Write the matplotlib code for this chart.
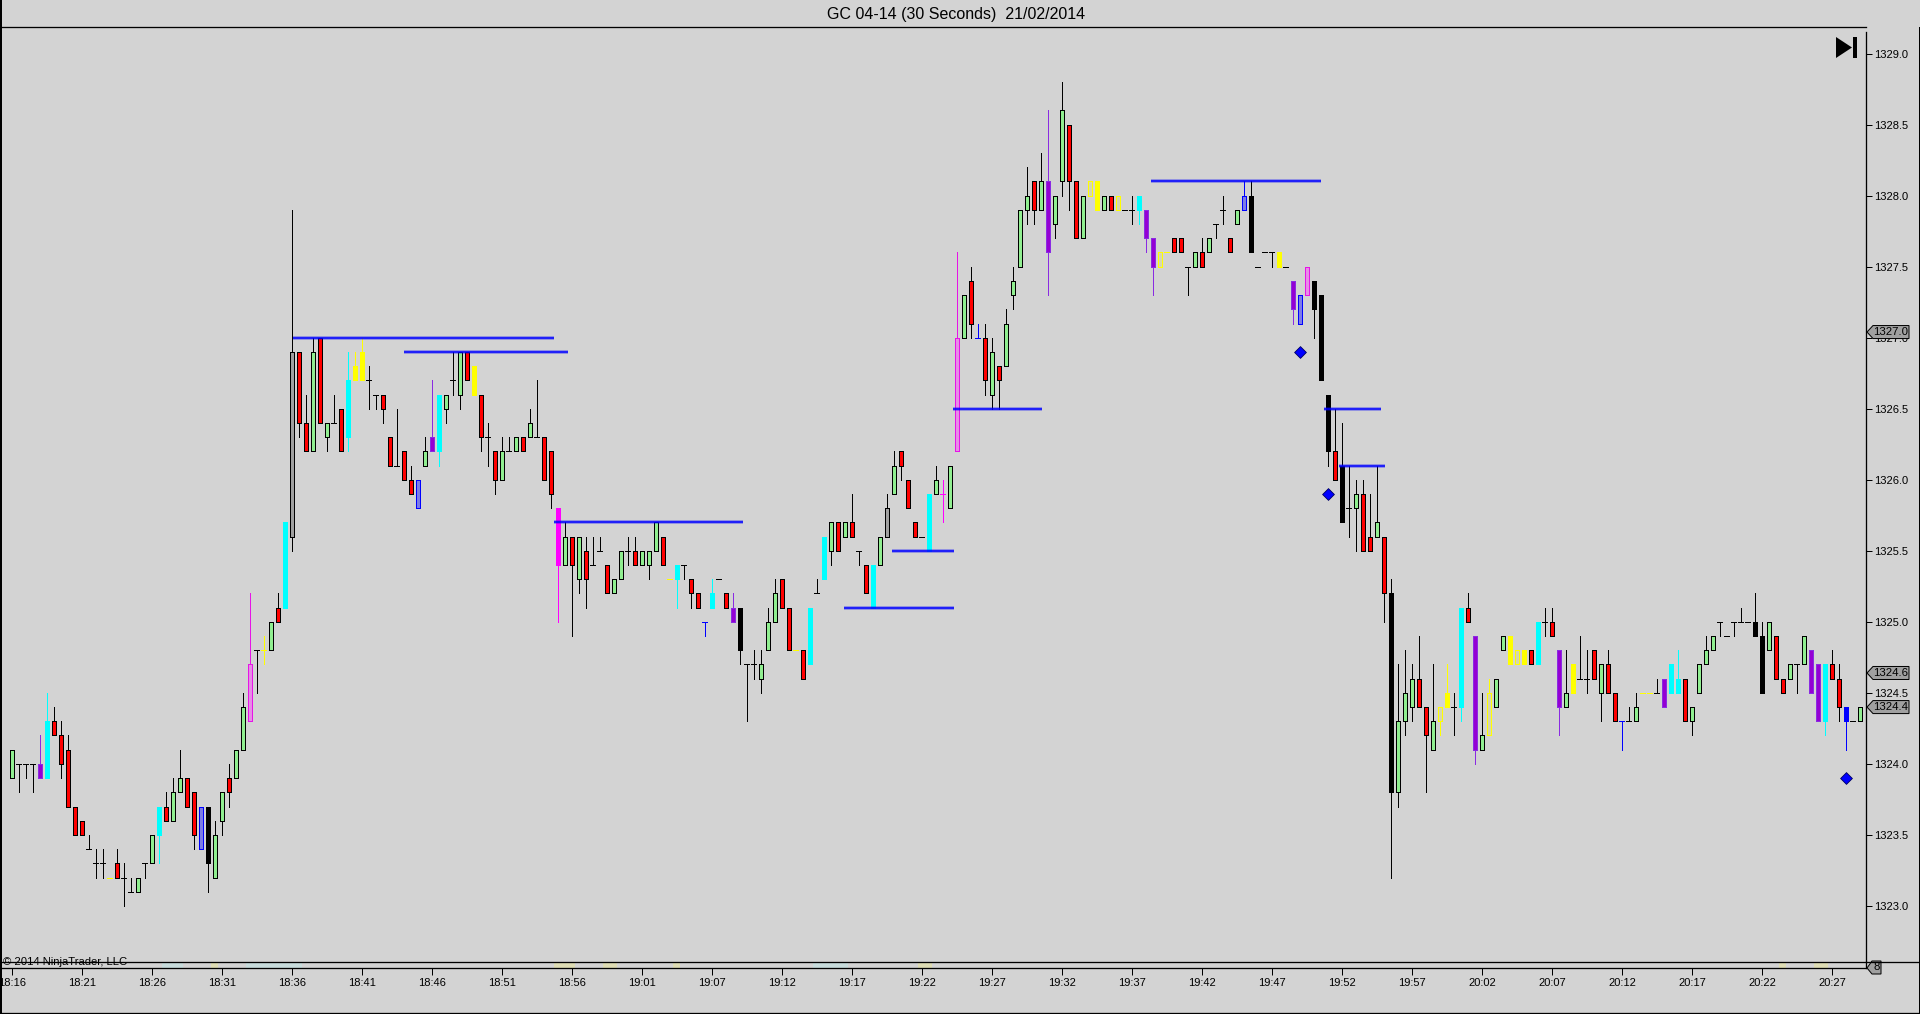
import matplotlib
matplotlib.use("Agg")
import matplotlib.pyplot as plt
from matplotlib.patches import Polygon, Rectangle
from matplotlib.lines import Line2D
from matplotlib.transforms import Affine2D, blended_transform_factory
import numpy as np

plt.rcParams['font.family'] = ['Liberation Sans', 'DejaVu Sans']

TITLE = "GC 04-14 (30 Seconds)  21/02/2014"
COPYRIGHT = "\u00a9 2014 NinjaTrader, LLC"

time_labels = ["18:16","18:21","18:26","18:31","18:36","18:41","18:46","18:51","18:56",
               "19:01","19:07","19:12","19:17","19:22","19:27","19:32","19:37","19:42",
               "19:47","19:52","19:57","20:02","20:07","20:12","20:17","20:22","20:27"]
price_ticks = [1323.0,1323.5,1324.0,1324.5,1325.0,1325.5,1326.0,1326.5,1327.0,1327.5,1328.0,1328.5,1329.0]

# one letter per bar: g up, r down, d flat, c cyan, y yellow, Y hollow yellow, m magenta,
# M hollow magenta, p purple, b hollow blue, B solid blue, k black, K grey
kinds = ("gdddpcrrrr" "rdddyrddgd" "gcrggrrbkg" "grggMdygrc" "Krrgrgdrcy"
         "yddrrdrrbg" "pcgdgryrdr" "gdgrgdrrmg" "rgrddrggdr" "gggrycdrrB"
         "cdrpkddggg" "rryrcdcgrg" "rdrcgKgrrr" "dcgmgMgrBr" "grggggrgpg"
         "grrgYygrYd" "dcppYyrrdg" "rgddrgbkdd" "dydpbMkkkr" "kdgrrgrkgg"
         "grrgYydcrp" "gYggyYyrcd" "rpgyddrgrr" "Bdgyydpccr" "ggggdddddk"
         "kgrrgdgppc" "rrBdg")

body_top = [
 1324.1,1324.0,1324.0,1324.0,1324.0,1324.3,1324.3,1324.2,1324.1,1323.7,
 1323.6,1323.4,1323.3,1323.3,1323.2,1323.3,1323.2,1323.1,1323.2,1323.3,
 1323.5,1323.7,1323.7,1323.8,1323.9,1323.9,1323.8,1323.7,1323.7,1323.5,
 1323.8,1323.9,1324.1,1324.4,1324.7,1324.8,1324.8,1325.0,1325.1,1325.7,
 1326.9,1326.9,1326.4,1326.9,1327.0,1326.4,1326.4,1326.5,1326.7,1326.8,
 1326.9,1326.7,1326.6,1326.6,1326.3,1326.1,1326.2,1326.0,1326.0,1326.2,
 1326.3,1326.6,1326.6,1326.7,1326.9,1326.9,1326.8,1326.6,1326.3,1326.2,
 1326.2,1326.2,1326.3,1326.3,1326.4,1326.3,1326.3,1326.2,1325.8,1325.6,
 1325.6,1325.6,1325.5,1325.4,1325.5,1325.4,1325.3,1325.5,1325.5,1325.5,
 1325.5,1325.5,1325.7,1325.6,1325.3,1325.4,1325.4,1325.3,1325.2,1325.0,
 1325.2,1325.3,1325.2,1325.1,1325.1,1324.7,1324.7,1324.7,1325.0,1325.2,
 1325.3,1325.1,1324.8,1324.8,1325.1,1325.2,1325.6,1325.7,1325.7,1325.7,
 1325.7,1325.5,1325.4,1325.4,1325.6,1325.8,1326.1,1326.2,1326.0,1325.7,
 1325.6,1325.9,1326.0,1325.9,1326.1,1327.0,1327.3,1327.4,1327.0,1327.0,
 1326.9,1326.8,1327.1,1327.4,1327.9,1328.0,1328.1,1328.1,1328.1,1328.0,
 1328.6,1328.5,1328.1,1328.0,1328.1,1328.1,1328.0,1328.0,1328.0,1327.9,
 1327.9,1328.0,1327.9,1327.7,1327.6,1327.6,1327.7,1327.7,1327.5,1327.6,
 1327.6,1327.7,1327.8,1327.9,1327.7,1327.9,1328.0,1328.0,1327.5,1327.6,
 1327.6,1327.6,1327.5,1327.4,1327.3,1327.5,1327.4,1327.3,1326.6,1326.2,
 1326.1,1325.8,1325.9,1325.9,1325.6,1325.7,1325.6,1325.2,1324.3,1324.5,
 1324.6,1324.6,1324.4,1324.3,1324.4,1324.5,1324.4,1325.1,1325.1,1324.9,
 1324.2,1324.5,1324.6,1324.9,1324.9,1324.8,1324.8,1324.8,1325.0,1325.0,
 1325.0,1324.8,1324.5,1324.7,1324.6,1324.6,1324.8,1324.7,1324.7,1324.5,
 1324.3,1324.3,1324.4,1324.5,1324.5,1324.5,1324.6,1324.7,1324.6,1324.6,
 1324.4,1324.7,1324.8,1324.9,1325.0,1324.9,1325.0,1325.0,1325.0,1325.0,
 1324.9,1325.0,1324.9,1324.6,1324.7,1324.7,1324.9,1324.8,1324.7,1324.7,
 1324.7,1324.6,1324.4,1324.3,1324.4]

body_bot = [
 1323.9,1324.0,1324.0,1324.0,1323.9,1323.9,1324.2,1324.0,1323.7,1323.5,
 1323.5,1323.4,1323.3,1323.3,1323.2,1323.2,1323.2,1323.1,1323.1,1323.3,
 1323.3,1323.5,1323.6,1323.6,1323.8,1323.7,1323.5,1323.4,1323.3,1323.2,
 1323.6,1323.8,1323.9,1324.1,1324.3,1324.8,1324.8,1324.8,1325.0,1325.1,
 1325.6,1326.4,1326.2,1326.2,1326.4,1326.3,1326.4,1326.2,1326.3,1326.7,
 1326.7,1326.7,1326.6,1326.5,1326.1,1326.1,1326.0,1325.9,1325.8,1326.1,
 1326.2,1326.2,1326.5,1326.7,1326.6,1326.7,1326.6,1326.3,1326.3,1326.0,
 1326.0,1326.2,1326.2,1326.2,1326.3,1326.3,1326.0,1325.9,1325.4,1325.4,
 1325.4,1325.3,1325.3,1325.4,1325.5,1325.2,1325.2,1325.3,1325.5,1325.4,
 1325.4,1325.4,1325.5,1325.4,1325.3,1325.3,1325.4,1325.2,1325.1,1325.0,
 1325.1,1325.3,1325.1,1325.0,1324.8,1324.7,1324.7,1324.6,1324.8,1325.0,
 1325.1,1324.8,1324.8,1324.6,1324.7,1325.2,1325.3,1325.5,1325.5,1325.6,
 1325.6,1325.5,1325.2,1325.1,1325.4,1325.6,1325.9,1326.1,1325.8,1325.6,
 1325.6,1325.5,1325.9,1325.9,1325.8,1326.2,1327.0,1327.1,1327.0,1326.7,
 1326.6,1326.7,1326.8,1327.3,1327.5,1327.9,1327.9,1327.9,1327.6,1327.8,
 1328.1,1328.1,1327.7,1327.7,1328.0,1327.9,1327.9,1327.9,1327.9,1327.9,
 1327.9,1327.9,1327.7,1327.5,1327.5,1327.6,1327.6,1327.6,1327.5,1327.5,
 1327.5,1327.6,1327.8,1327.9,1327.6,1327.8,1327.9,1327.6,1327.5,1327.6,
 1327.6,1327.5,1327.5,1327.2,1327.1,1327.3,1327.2,1326.7,1326.2,1326.0,
 1325.7,1325.8,1325.8,1325.5,1325.5,1325.6,1325.2,1323.8,1323.8,1324.3,
 1324.4,1324.4,1324.2,1324.1,1324.3,1324.4,1324.4,1324.4,1325.0,1324.1,
 1324.1,1324.2,1324.4,1324.8,1324.7,1324.7,1324.7,1324.7,1324.7,1325.0,
 1324.9,1324.4,1324.4,1324.5,1324.6,1324.6,1324.6,1324.5,1324.5,1324.3,
 1324.3,1324.3,1324.3,1324.5,1324.5,1324.5,1324.4,1324.5,1324.5,1324.3,
 1324.3,1324.5,1324.7,1324.8,1325.0,1324.9,1325.0,1325.0,1325.0,1324.9,
 1324.5,1324.8,1324.6,1324.5,1324.6,1324.7,1324.7,1324.5,1324.3,1324.3,
 1324.6,1324.4,1324.3,1324.3,1324.3]

highs = [
 1324.1,1324.0,1324.0,1324.0,1324.2,1324.5,1324.4,1324.3,1324.2,1323.7,
 1323.6,1323.5,1323.4,1323.4,1323.2,1323.4,1323.3,1323.2,1323.2,1323.3,
 1323.5,1323.7,1323.8,1323.9,1324.1,1323.9,1323.8,1323.7,1323.7,1323.6,
 1323.8,1324.0,1324.1,1324.5,1325.2,1324.8,1324.9,1325.0,1325.2,1325.7,
 1327.9,1326.9,1326.6,1327.0,1327.0,1326.4,1326.6,1326.5,1326.9,1326.9,
 1327.0,1326.8,1326.6,1326.6,1326.3,1326.5,1326.2,1326.1,1326.0,1326.3,
 1326.7,1326.6,1326.6,1326.9,1326.9,1326.9,1326.8,1326.6,1326.4,1326.2,
 1326.3,1326.3,1326.3,1326.3,1326.5,1326.7,1326.3,1326.2,1325.8,1325.7,
 1325.6,1325.6,1325.6,1325.6,1325.6,1325.4,1325.3,1325.5,1325.6,1325.6,
 1325.5,1325.5,1325.7,1325.6,1325.3,1325.4,1325.4,1325.3,1325.2,1325.0,
 1325.3,1325.3,1325.2,1325.2,1325.1,1324.7,1324.8,1324.8,1325.1,1325.3,
 1325.3,1325.1,1324.8,1324.8,1325.1,1325.3,1325.6,1325.7,1325.7,1325.7,
 1325.9,1325.5,1325.4,1325.4,1325.6,1325.9,1326.2,1326.2,1326.0,1325.7,
 1325.6,1325.9,1326.1,1326.0,1326.1,1327.6,1327.3,1327.5,1327.1,1327.1,
 1327.0,1326.8,1327.2,1327.5,1327.9,1328.2,1328.1,1328.3,1328.6,1328.0,
 1328.8,1328.5,1328.1,1328.0,1328.1,1328.1,1328.0,1328.0,1328.0,1327.9,
 1328.0,1328.0,1327.9,1327.7,1327.6,1327.6,1327.7,1327.7,1327.5,1327.6,
 1327.7,1327.7,1327.8,1328.0,1327.7,1327.9,1328.1,1328.1,1327.5,1327.6,
 1327.6,1327.6,1327.5,1327.4,1327.3,1327.5,1327.4,1327.3,1326.6,1326.5,
 1326.4,1326.1,1326.0,1326.0,1325.9,1326.1,1325.6,1325.3,1324.7,1324.8,
 1324.7,1324.9,1324.4,1324.7,1324.4,1324.7,1324.5,1325.1,1325.2,1324.9,
 1324.5,1324.6,1324.6,1324.9,1324.9,1324.8,1324.8,1324.8,1325.0,1325.1,
 1325.1,1324.8,1324.8,1324.7,1324.9,1324.8,1324.8,1324.7,1324.8,1324.5,
 1324.3,1324.4,1324.5,1324.5,1324.5,1324.6,1324.6,1324.7,1324.8,1324.6,
 1324.4,1324.7,1324.9,1324.9,1325.0,1324.9,1325.0,1325.1,1325.0,1325.2,
 1325.0,1325.0,1324.9,1324.6,1324.7,1324.7,1324.9,1324.8,1324.7,1324.7,
 1324.8,1324.7,1324.4,1324.3,1324.4]

lows = [
 1323.9,1323.8,1323.9,1323.8,1323.9,1323.9,1324.2,1323.9,1323.7,1323.5,
 1323.5,1323.4,1323.2,1323.2,1323.2,1323.2,1323.0,1323.1,1323.1,1323.2,
 1323.3,1323.3,1323.6,1323.6,1323.8,1323.7,1323.4,1323.4,1323.1,1323.2,
 1323.5,1323.7,1323.9,1324.1,1324.3,1324.5,1324.7,1324.8,1325.0,1325.1,
 1325.5,1326.3,1326.2,1326.2,1326.4,1326.2,1326.4,1326.2,1326.2,1326.7,
 1326.7,1326.5,1326.5,1326.4,1326.1,1326.1,1326.0,1325.9,1325.8,1326.1,
 1326.2,1326.1,1326.4,1326.6,1326.5,1326.7,1326.6,1326.2,1326.1,1325.9,
 1326.0,1326.2,1326.2,1326.2,1326.3,1326.3,1326.0,1325.8,1325.0,1325.4,
 1324.9,1325.2,1325.1,1325.4,1325.5,1325.2,1325.2,1325.3,1325.4,1325.4,
 1325.4,1325.3,1325.5,1325.4,1325.3,1325.1,1325.3,1325.1,1325.1,1324.9,
 1325.1,1325.3,1325.1,1325.0,1324.7,1324.3,1324.6,1324.5,1324.8,1325.0,
 1325.1,1324.8,1324.8,1324.6,1324.7,1325.2,1325.3,1325.4,1325.5,1325.6,
 1325.6,1325.4,1325.2,1325.1,1325.4,1325.6,1325.9,1326.0,1325.8,1325.6,
 1325.6,1325.5,1325.9,1325.7,1325.8,1326.2,1327.0,1327.0,1327.0,1326.6,
 1326.5,1326.5,1326.8,1327.2,1327.5,1327.8,1327.8,1327.9,1327.3,1327.7,
 1328.0,1327.9,1327.7,1327.7,1328.0,1327.9,1327.9,1327.9,1327.9,1327.9,
 1327.8,1327.8,1327.6,1327.3,1327.5,1327.6,1327.6,1327.6,1327.3,1327.5,
 1327.5,1327.6,1327.7,1327.8,1327.6,1327.8,1327.9,1327.6,1327.5,1327.6,
 1327.5,1327.5,1327.5,1327.1,1327.1,1327.3,1327.0,1326.7,1326.1,1326.0,
 1325.7,1325.6,1325.5,1325.5,1325.5,1325.6,1325.0,1323.2,1323.7,1324.2,
 1324.3,1324.4,1323.8,1324.1,1324.2,1324.4,1324.2,1324.3,1325.0,1324.0,
 1324.1,1324.2,1324.4,1324.8,1324.7,1324.7,1324.7,1324.7,1324.7,1324.9,
 1324.9,1324.2,1324.4,1324.5,1324.6,1324.5,1324.6,1324.3,1324.5,1324.3,
 1324.1,1324.3,1324.3,1324.5,1324.5,1324.5,1324.4,1324.5,1324.5,1324.3,
 1324.2,1324.5,1324.7,1324.8,1324.9,1324.9,1324.9,1325.0,1325.0,1324.9,
 1324.5,1324.8,1324.6,1324.5,1324.6,1324.5,1324.7,1324.5,1324.3,1324.2,
 1324.6,1324.3,1324.1,1324.3,1324.3]

# horizontal blue levels
level_prices = [1327.0, 1326.9, 1325.7, 1325.1, 1325.5, 1326.5, 1328.1, 1326.5, 1326.1]
level_starts = [40.2, 56.0, 77.5, 118.9, 125.7, 134.5, 162.7, 187.5, 189.6]
level_ends   = [77.4, 79.5, 104.4, 134.6, 134.6, 147.2, 187.0, 195.6, 196.2]

# blue diamonds
diamond_bars = [184, 188, 262]
diamond_prices = [1326.9, 1325.9, 1323.9]

# price tags on the right axis
tag_prices = [1327.04, 1324.64, 1324.40]
tag_labels = ["1327.0", "1324.6", "1324.4"]

# faint tints in the thin lower panel
strip_cyan = [22, 23, 24, 34, 35, 36, 37, 38, 39, 40, 41, 115, 116, 117, 118, 119]
strip_yellow = [29, 78, 79, 80, 85, 86, 95, 130, 131, 253, 258, 259]

BG = "#D3D3D3"
W, H = 1920, 1014
# (fill, outline, wick)
style = {
    'g': ("#90EE90", "#000000", "#000000"),
    'r': ("#FF0000", "#000000", "#000000"),
    'd': ("#000000", "#000000", "#000000"),
    'c': ("#00FFFF", "#00FFFF", "#00FFFF"),
    'y': ("#FFFF00", "#FFFF00", "#FFFF00"),
    'Y': ("#D6D6B0", "#FFFF00", "#FFFF00"),
    'm': ("#FF00FF", "#FF00FF", "#FF00FF"),
    'M': ("#E68CE6", "#E614E6", "#E614E6"),
    'p': ("#9400D3", "#8A2BE2", "#8A2BE2"),
    'b': ("#7C7CE6", "#0000FF", "#0000FF"),
    'B': ("#0000FF", "#0000FF", "#0000FF"),
    'k': ("#000000", "#000000", "#000000"),
    'K': ("#A0A0A0", "#000000", "#000000"),
}
n = len(body_top)
x = np.arange(n)
PX_BAR = 7.0
X0 = 11.9
AX_R = 1866.0
Y_TOP, Y_MID, Y_BOT = 27.0, 962.0, 968.0
SCALE = 142.06
price_at = lambda y: 1329 - (y - 53.6) / SCALE

fig = plt.figure(figsize=(W / 100, H / 100), dpi=100, facecolor=BG)
ax = fig.add_axes([0, 1 - Y_MID / H, AX_R / W, (Y_MID - Y_TOP) / H], facecolor=BG)
ax2 = fig.add_axes([0, 1 - Y_BOT / H, AX_R / W, (Y_BOT - Y_MID) / H], facecolor=BG)
xlim = (-X0 / PX_BAR, (AX_R - X0) / PX_BAR)
ax.set_xlim(*xlim)
ax.set_ylim(price_at(Y_MID), price_at(Y_TOP))
ax2.set_xlim(*xlim)
ax2.set_ylim(0, 1)

LW = 0.72
for key, (fill, edge, wick) in style.items():
    idx = [i for i in range(n) if kinds[i] == key]
    if not idx:
        continue
    ax.vlines(x[idx], [lows[i] for i in idx], [highs[i] for i in idx],
              color=wick, lw=LW, antialiased=False, zorder=2)
    full = [i for i in idx if body_top[i] != body_bot[i]]
    flat = [i for i in idx if body_top[i] == body_bot[i]]
    if full:
        ax.bar(x[full], [body_top[i] - body_bot[i] for i in full],
               bottom=[body_bot[i] for i in full], width=4 / PX_BAR,
               color=fill, edgecolor=edge, linewidth=LW, antialiased=False, zorder=3)
    if flat:
        ax.hlines([body_top[i] for i in flat], x[flat] - 2.5 / PX_BAR, x[flat] + 2.5 / PX_BAR,
                  color=wick, lw=LW, antialiased=False, zorder=3)

# levels with soft halo
ax.hlines(level_prices, level_starts, level_ends, color="#0000FF", lw=2.7, alpha=0.35, zorder=4)
ax.hlines(level_prices, level_starts, level_ends, color="#0000FF", lw=1.1, zorder=4)

ax.scatter(diamond_bars, diamond_prices, marker='D', s=36, color="#0000FF",
           edgecolor="#000060", linewidth=0.6, zorder=5)

# axes dressing
for s in ['left', 'bottom']:
    ax.spines[s].set_visible(False)
ax.spines['top'].set_linewidth(LW * 1.3)
ax.spines['right'].set_linewidth(LW * 1.3)
ax.spines['right'].set_bounds(price_at(Y_MID), price_at(32))
ax.xaxis.set_visible(False)
ax.yaxis.tick_right()
ax.set_yticks(price_ticks)
ax.set_yticklabels([f"{p:.1f}" for p in price_ticks])
ax.tick_params(axis='y', length=4.4, width=LW, pad=1.5, labelsize=8.0, colors="#000000")

for s in ['left', 'top']:
    ax2.spines[s].set_visible(False)
ax2.spines['bottom'].set_linewidth(LW * 1.3)
ax2.spines['right'].set_linewidth(LW * 1.3)
ax2.bar(strip_cyan, 1, bottom=0, width=1.0, color="#C8DCDC", linewidth=0, zorder=1)
ax2.bar(strip_yellow, 1, bottom=0, width=1.0, color="#DEDCB4", linewidth=0, zorder=1)
ax2.set_yticks([])
ax2.set_xticks(np.arange(0, n, 10))
ax2.set_xticklabels(time_labels)
ax2.tick_params(axis='x', length=4.8, width=LW, pad=2.6, labelsize=8.0)

# pixel-based decorations
px = Affine2D().scale(1, -1).translate(0, H)
fig.text(956 / W, 1 - 14.3 / H, TITLE, ha='center', va='center', fontsize=11.5, color="#000000")

fig.add_artist(Line2D([0, W], [Y_MID, Y_MID], transform=px, color="#000000", lw=LW * 1.3))
fig.add_artist(Line2D([0.5, 0.5], [0, H], transform=px, color="#000000", lw=LW * 2))
fig.add_artist(Line2D([W - 1, W - 1], [27, H], transform=px, color="#000000", lw=LW))
fig.add_artist(Line2D([0, W], [H - 1, H - 1], transform=px, color="#000000", lw=LW * 1.3))
fig.text(3 / W, 1 - 962 / H, COPYRIGHT, ha='left', va='center', fontsize=8.1, color="#000000", zorder=6)

# end-of-data glyph
fig.add_artist(Polygon([[1836, 37], [1852, 47.5], [1836, 58]], closed=True, transform=px,
                       facecolor="#000000", edgecolor="none"))
fig.add_artist(Rectangle((1853.2, 37), 3.6, 21, transform=px, facecolor="#000000", edgecolor="none"))

# price tags
tag_tf = blended_transform_factory(px, ax.transData)
half = 6.5 / SCALE
for p, lab in zip(tag_prices, tag_labels):
    ax.add_patch(Polygon([[1867, p], [1873, p + half], [1909, p + half], [1909, p - half], [1873, p - half]],
                         closed=True, transform=tag_tf, facecolor="#A0A0A0", edgecolor="#000000",
                         linewidth=LW, clip_on=False, zorder=7))
    ax.text(1891, p, lab, transform=tag_tf, ha='center', va='center', fontsize=8.2,
            color="#000000", clip_on=False, zorder=8)
# lower-panel tag
fig.add_artist(Polygon([[1867, 968], [1872, 961], [1881, 961], [1881, 974], [1872, 974]], closed=True,
                       transform=px, facecolor="#A0A0A0", edgecolor="#000000", linewidth=LW))
fig.text(1877 / W, 1 - 967.5 / H, "8", ha='center', va='center', fontsize=8.2, color="#000000")

fig.savefig("out.png", dpi=100, facecolor=BG)
